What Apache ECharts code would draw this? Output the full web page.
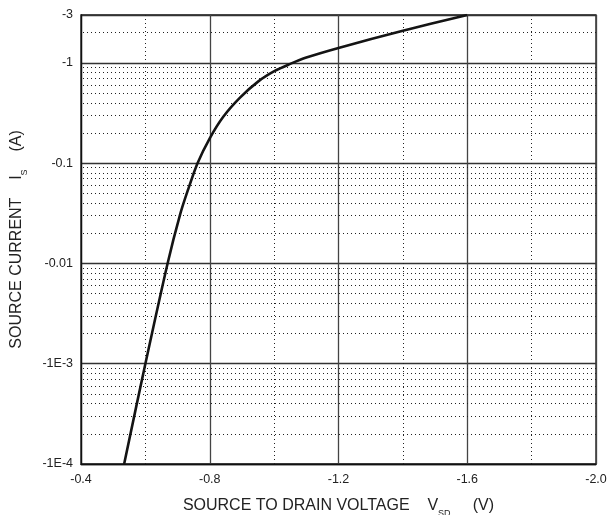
<!DOCTYPE html>
<html>
<head>
<meta charset="utf-8">
<script src="https://cdn.jsdelivr.net/npm/echarts@6/dist/echarts.min.js"></script>
<style>
  html, body { margin: 0; padding: 0; background: #fff; }
  #chart { width: 609px; height: 515px; }
</style>
</head>
<body>
<div id="chart"></div>
<script>
// ---- data ----
const vsd = [-0.534, -0.600, -0.669, -0.708, -0.734, -0.762, -0.800, -0.842, -0.894, -0.950, -1.002, -1.048, -1.100, -1.200, -1.400, -1.600];
const sourceCurrent = [1e-4, 1e-3, 0.01, 0.0309, 0.0561, 0.1, 0.177, 0.29, 0.45, 0.65, 0.83, 0.97, 1.13, 1.41, 2.09, 3.0];

const yTickValues = [1e-4, 1e-3, 0.01, 0.1, 1, 3];
const yTickLabels = ['-1E-4', '-1E-3', '-0.01', '-0.1', '-1', '-3'];
const xMinorGrid = [-0.6, -1.0, -1.4, -1.8];
const yDecades = [1e-4, 1e-3, 1e-2, 1e-1];
const yMinorMultipliers = [2, 3, 4, 5, 6, 7, 8, 9];
const yTopMinor = [2];

// minor log gridline positions
const yMinorGrid = [];
yDecades.forEach(d => yMinorMultipliers.forEach(m => yMinorGrid.push(m * d)));
yTopMinor.forEach(v => yMinorGrid.push(v));

const X_MIN = -2.0, X_MAX = -0.4, Y_MIN = 1e-4, Y_MAX = 3;

const chart = echarts.init(document.getElementById('chart'), null, { renderer: 'canvas' });

const dotted = { type: [1, 3], color: '#222', width: 1, opacity: 1 };
const font = 'Liberation Sans, Arial, Helvetica, sans-serif';

const gridLines = xMinorGrid.map(v => ({ coords: [[v, Y_MIN], [v, Y_MAX]] }))
  .concat(yMinorGrid.map(v => ({ coords: [[X_MIN, v], [X_MAX, v]] })));

const titleRich = {
  t: { fontFamily: font, fontSize: 16, color: '#222', lineHeight: 20, verticalAlign: 'middle' },
  s: { fontFamily: font, fontSize: 9, color: '#222', lineHeight: 25, verticalAlign: 'bottom' }
};

const option = {
  animation: false,
  backgroundColor: '#fff',
  grid: {
    left: 81, right: 13, top: 15, bottom: 51,
    containLabel: false,
    outerBoundsMode: 'none',
    show: true, borderColor: '#111', borderWidth: 1.3, backgroundColor: 'transparent'
  },
  xAxis: {
    type: 'value',
    min: X_MIN, max: X_MAX, interval: 0.4,
    inverse: true,
    axisLine: { show: true, lineStyle: { color: '#111', width: 1.3 } },
    axisTick: { show: false },
    axisLabel: {
      color: '#222', fontFamily: font, fontSize: 12.5, margin: 9,
      formatter: v => v.toFixed(1)
    },
    splitLine: { show: true, lineStyle: { color: '#444', width: 1.3 } },
    name: '{t|SOURCE TO DRAIN VOLTAGE    V}{s|SD}{t|     (V)}',
    nameLocation: 'middle',
    nameGap: 29,
    nameTextStyle: { rich: titleRich }
  },
  yAxis: {
    type: 'log',
    logBase: 10,
    min: Y_MIN, max: Y_MAX,
    axisLine: { show: true, lineStyle: { color: '#111', width: 1.3 } },
    axisTick: { show: false },
    axisLabel: {
      color: '#222', fontFamily: font, fontSize: 12.5, margin: 8,
      formatter: function (v) {
        for (let i = 0; i < yTickValues.length; i++) {
          if (Math.abs(Math.log10(v) - Math.log10(yTickValues[i])) < 0.01) return yTickLabels[i];
        }
        return '';
      }
    },
    splitLine: { show: true, lineStyle: { color: '#333', width: 1.3 } },
    minorTick: { show: false },
    minorSplitLine: { show: false },
    name: '{t|SOURCE CURRENT    I}{s|S}{t|    (A)}',
    nameLocation: 'middle',
    nameGap: 52,
    nameTextStyle: { rich: titleRich }
  },
  series: [
    {
      name: 'grid-minor',
      type: 'lines',
      coordinateSystem: 'cartesian2d',
      silent: true,
      z: 1,
      symbol: 'none',
      lineStyle: dotted,
      data: gridLines
    },
    {
      name: 'Is',
      type: 'line',
      data: vsd.map((v, i) => [v, sourceCurrent[i]]),
      smooth: 0.3,
      showSymbol: false,
      symbol: 'none',
      z: 5,
      lineStyle: { color: '#141414', width: 2.6 }
    }
  ]
};

chart.setOption(option);
</script>
</body>
</html>
